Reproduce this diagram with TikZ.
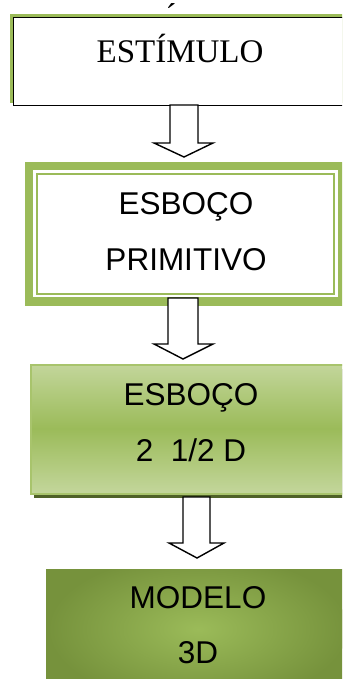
\documentclass[tikz,border=0pt]{standalone}
\usepackage{fontspec}
\setmainfont{Liberation Serif}
\newfontfamily\arial{Liberation Sans}
\definecolor{ogreen}{HTML}{9BBB59}
\definecolor{olight}{HTML}{C3D69B}
\definecolor{odark}{HTML}{76923C}
\definecolor{oshadow}{HTML}{4F6228}
\definecolor{oborder}{HTML}{A8C46C}
\tikzset{
  lbl/.style={anchor=base, inner sep=0pt, font=\arial\fontsize{31.5bp}{36bp}\selectfont},
  blockarrow/.style={draw=black, fill=white, line width=1.4bp, line join=miter},
}
\begin{document}
\begin{tikzpicture}[x=1bp, y=-1bp]
\useasboundingbox (0,0) rectangle (342,679);
\clip (0,0) rectangle (342,679);
% Box 1
\fill[ogreen] (10,14) rectangle (365,103);
\node[draw=black, fill=white, line width=1.4bp, anchor=north west, minimum width=360bp, minimum height=88bp, inner sep=0pt] (b1) at (13,17) {};
\node[anchor=base, inner sep=0pt, font=\fontsize{33bp}{38bp}\selectfont] (t1) at (180,63) {ESTÍMULO};
\node[anchor=base, inner sep=0pt, font=\fontsize{33bp}{38bp}\selectfont] (acc) at (171,27) {´};
% Box 2
\node[fill=ogreen, anchor=north west, minimum width=321bp, minimum height=144bp, inner sep=0pt] (b2) at (25,162) {};
\fill[white] (33.3,170) rectangle (337.7,297);
\draw[ogreen, line width=2bp] (37,174) rectangle (334,294);
\node[lbl] (t2a) at (186,214) {ESBOÇO};
\node[lbl] (t2b) at (186,270) {PRIMITIVO};
% Arrow 1
\draw[blockarrow] (170,105) -- (198,105) -- (198,143) -- (213,143) -- (184,157) -- (154,143) -- (170,143) -- cycle;
% Box 3
\fill[oshadow] (34,369) rectangle (380,498);
\shade[top color=olight, bottom color=olight, middle color=ogreen] (30,364) rectangle (375,493);
\node[draw=oborder, line width=1.8bp, anchor=north west, minimum width=345bp, minimum height=129bp, inner sep=0pt] (b3) at (30,364) {};
\node[lbl] (t3a) at (191,405) {ESBOÇO};
\node[lbl] (t3b) at (191,461) {2\ \ 1/2 D};
% Arrow 2
\draw[blockarrow] (168,298) -- (198,298) -- (198,344) -- (213,344) -- (183,359) -- (154,344) -- (168,344) -- cycle;
% Box 4
\node[anchor=north west, minimum width=324bp, minimum height=130bp, inner sep=0pt] (b4) at (46,569) {};
\fill[odark] (46,569) rectangle (370,699);
\begin{scope}
\clip (46,569) rectangle (370,699);
\shade[inner color=ogreen, outer color=odark] (198,629) ellipse (150 and 75);
\end{scope}
\node[lbl] (t4a) at (198,608) {MODELO};
\node[lbl] (t4b) at (198,663) {3D};
% Arrow 3
\draw[blockarrow] (183,497) -- (210,497) -- (210,543) -- (224,543) -- (197,558) -- (169,543) -- (183,543) -- cycle;
\end{tikzpicture}
\end{document}
